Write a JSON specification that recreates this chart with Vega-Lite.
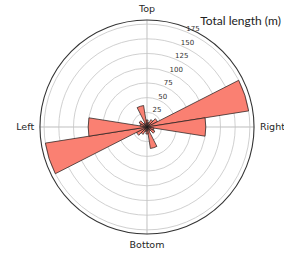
{
  "$schema": "https://vega.github.io/schema/vega-lite/v6.json",
  "width": 274,
  "height": 252,
  "padding": {"left": 10, "right": 0, "top": 1, "bottom": 0},
  "autosize": {"type": "none"},
  "background": "white",
  "config": {"view": {"stroke": null}},
  "layer": [
    {
      "data": {"values": [{"r": 25}, {"r": 50}, {"r": 75}, {"r": 100}, {"r": 125}, {"r": 150}, {"r": 175}]},
      "mark": {"type": "arc", "filled": false, "stroke": "#c4c4c4", "strokeWidth": 0.8},
      "encoding": {
        "theta": {"datum": 0, "scale": {"type": "linear", "domain": [0, 360], "range": [0, 6.283185307179586]}},
        "theta2": {"datum": 360},
        "radius": {"field": "r", "type": "quantitative", "stack": null, "scale": {"type": "linear", "domain": [0, 182], "range": [0, 107], "zero": true}}
      }
    },
    {
      "data": {"values": [
        {"from": -0.1, "to": 0.1, "r": 182},
        {"from": 89.9, "to": 90.1, "r": 182},
        {"from": 179.9, "to": 180.1, "r": 182},
        {"from": 269.9, "to": 270.1, "r": 182}
      ]},
      "mark": {"type": "arc", "fill": "#c4c4c4", "stroke": "#c4c4c4", "strokeWidth": 0.5},
      "encoding": {
        "theta": {"field": "from", "type": "quantitative", "stack": null},
        "theta2": {"field": "to"},
        "radius": {"field": "r", "type": "quantitative", "stack": null}
      }
    },
    {
      "data": {"values": [
        {"from": -9, "to": 9, "len": 12},
        {"from": 9, "to": 27, "len": 8},
        {"from": 27, "to": 45, "len": 14},
        {"from": 45, "to": 63, "len": 20},
        {"from": 63, "to": 81, "len": 175},
        {"from": 81, "to": 99, "len": 100},
        {"from": 99, "to": 117, "len": 12},
        {"from": 117, "to": 135, "len": 15},
        {"from": 135, "to": 153, "len": 8},
        {"from": 153, "to": 171, "len": 37},
        {"from": 171, "to": 189, "len": 12},
        {"from": 189, "to": 207, "len": 8},
        {"from": 207, "to": 225, "len": 14},
        {"from": 225, "to": 243, "len": 20},
        {"from": 243, "to": 261, "len": 175},
        {"from": 261, "to": 279, "len": 100},
        {"from": 279, "to": 297, "len": 12},
        {"from": 297, "to": 315, "len": 15},
        {"from": 315, "to": 333, "len": 8},
        {"from": 333, "to": 351, "len": 37}
      ]},
      "mark": {"type": "arc", "fill": "#fa8072", "stroke": "#1a1a1a", "strokeWidth": 0.7},
      "encoding": {
        "theta": {"field": "from", "type": "quantitative", "stack": null},
        "theta2": {"field": "to"},
        "radius": {"field": "len", "type": "quantitative", "stack": null}
      }
    },
    {
      "data": {"values": [{"r": 182}]},
      "mark": {"type": "arc", "filled": false, "stroke": "#333333", "strokeWidth": 1.1},
      "encoding": {
        "theta": {"datum": 0},
        "theta2": {"datum": 360},
        "radius": {"field": "r", "type": "quantitative", "stack": null}
      }
    },
    {
      "data": {"values": [{"r": 25}, {"r": 50}, {"r": 75}, {"r": 100}, {"r": 125}, {"r": 150}, {"r": 175}]},
      "mark": {"type": "text", "align": "left", "baseline": "bottom", "font": "DejaVu Sans", "fontSize": 7, "color": "#333333"},
      "encoding": {
        "theta": {"datum": 22.5},
        "radius": {"field": "r", "type": "quantitative", "stack": null},
        "text": {"field": "r", "type": "quantitative"}
      }
    },
    {
      "data": {"values": [{"label": "Top", "a": 0}]},
      "mark": {"type": "text", "align": "center", "baseline": "bottom", "font": "DejaVu Sans", "fontSize": 9.5, "color": "#262626"},
      "encoding": {"theta": {"field": "a", "type": "quantitative", "stack": null}, "radius": {"datum": 192}, "text": {"field": "label"}}
    },
    {
      "data": {"values": [{"label": "Right", "a": 90}]},
      "mark": {"type": "text", "align": "left", "baseline": "middle", "font": "DejaVu Sans", "fontSize": 9.5, "color": "#262626"},
      "encoding": {"theta": {"field": "a", "type": "quantitative", "stack": null}, "radius": {"datum": 192}, "text": {"field": "label"}}
    },
    {
      "data": {"values": [{"label": "Bottom", "a": 180}]},
      "mark": {"type": "text", "align": "center", "baseline": "top", "font": "DejaVu Sans", "fontSize": 9.5, "color": "#262626"},
      "encoding": {"theta": {"field": "a", "type": "quantitative", "stack": null}, "radius": {"datum": 192}, "text": {"field": "label"}}
    },
    {
      "data": {"values": [{"label": "Left", "a": 270}]},
      "mark": {"type": "text", "align": "right", "baseline": "middle", "font": "DejaVu Sans", "fontSize": 9.5, "color": "#262626"},
      "encoding": {"theta": {"field": "a", "type": "quantitative", "stack": null}, "radius": {"datum": 192}, "text": {"field": "label"}}
    },
    {
      "data": {"values": [{"label": "Total length (m)", "a": 27.5}]},
      "mark": {"type": "text", "align": "left", "baseline": "alphabetic", "font": "Lato", "fontSize": 12, "color": "#222222"},
      "encoding": {"theta": {"field": "a", "type": "quantitative", "stack": null}, "radius": {"datum": 196}, "text": {"field": "label"}}
    }
  ]
}
